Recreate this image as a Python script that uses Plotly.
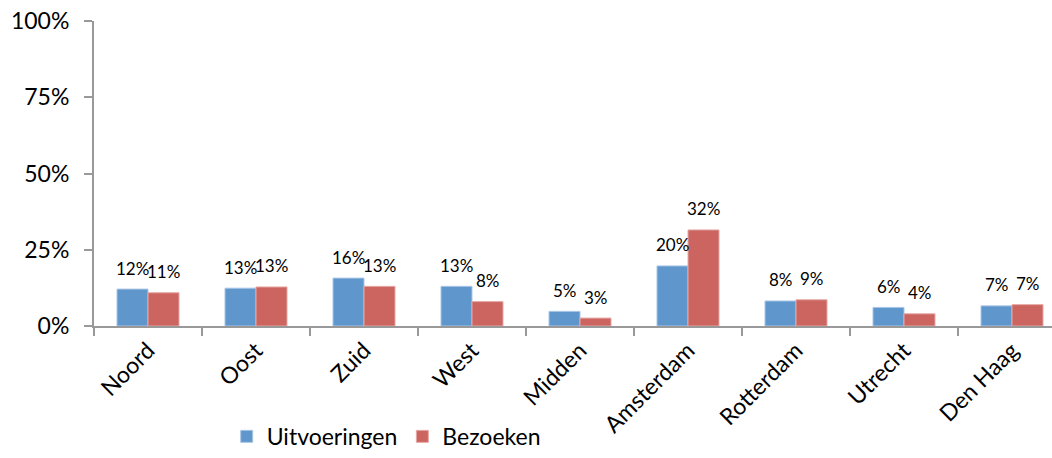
import plotly.graph_objects as go

categories = ["Noord", "Oost", "Zuid", "West", "Midden", "Amsterdam", "Rotterdam", "Utrecht", "Den Haag"]
uitvoeringen = [12.1, 12.4, 15.7, 13.0, 4.8, 19.7, 8.2, 6.1, 6.6]
bezoeken = [10.9, 12.8, 13.0, 8.0, 2.6, 31.5, 8.6, 4.0, 7.0]
uitv_labels = ["12%", "13%", "16%", "13%", "5%", "20%", "8%", "6%", "7%"]
bez_labels = ["11%", "13%", "13%", "8%", "3%", "32%", "9%", "4%", "7%"]
y_ticks = [0, 25, 50, 75, 100]
y_tick_labels = ["0%", "25%", "50%", "75%", "100%"]

FONT = "Lato, Open Sans, sans-serif"

fig = go.Figure()
fig.add_trace(go.Bar(
    name="Uitvoeringen", x=categories, y=uitvoeringen,
    marker=dict(color="#5F96CB", line=dict(color="#A9C6E6", width=1)),
))
fig.add_trace(go.Bar(
    name="Bezoeken", x=categories, y=bezoeken,
    marker=dict(color="#CC645F", line=dict(color="#E6A9A6", width=1)),
))

# data labels above bars
for cat, v, lab in zip(categories, uitvoeringen, uitv_labels):
    fig.add_annotation(x=cat, y=v, text=lab, showarrow=False, xshift=-15.5, yshift=21,
                       yanchor="middle", font=dict(size=17, family=FONT, color="#000000"))
for cat, v, lab in zip(categories, bezoeken, bez_labels):
    fig.add_annotation(x=cat, y=v, text=lab, showarrow=False, xshift=15.5, yshift=21,
                       yanchor="middle", font=dict(size=17, family=FONT, color="#000000"))

plot_w = 1052 - 94
cat_w = 108
xmax = plot_w / cat_w - 0.5

fig.update_layout(
    width=1052, height=458,
    margin=dict(l=94, r=0, t=21, b=132),
    paper_bgcolor="white", plot_bgcolor="white",
    barmode="group", bargap=0.426, bargroupgap=0,
    font=dict(family=FONT, size=22, color="#000000"),
    showlegend=True,
    legend=dict(
        orientation="h", x=0.305, xanchor="center", y=-0.362, yanchor="middle",
        font=dict(size=23, family=FONT), traceorder="normal", itemwidth=30,
    ),
    xaxis=dict(
        type="category", range=[-0.5, xmax], tickangle=-45, automargin=False,
        tickson="boundaries", ticks="outside", ticklen=8, tickcolor="#999999", tickwidth=2,
        showline=True, linecolor="#999999", linewidth=2,
        showgrid=False, tickfont=dict(size=23, family=FONT),
    ),
    yaxis=dict(
        range=[0, 100], tickvals=y_ticks, ticktext=y_tick_labels, automargin=False,
        ticks="outside", ticklen=8, tickcolor="#999999", tickwidth=2,
        ticklabelstandoff=10,
        showline=True, linecolor="#999999", linewidth=2,
        showgrid=False, zeroline=False, tickfont=dict(size=23, family=FONT),
    ),
)

fig.write_html("out.html", config={"displayModeBar": False},
               post_script="document.body.style.margin='0';document.body.style.overflow='hidden';")
